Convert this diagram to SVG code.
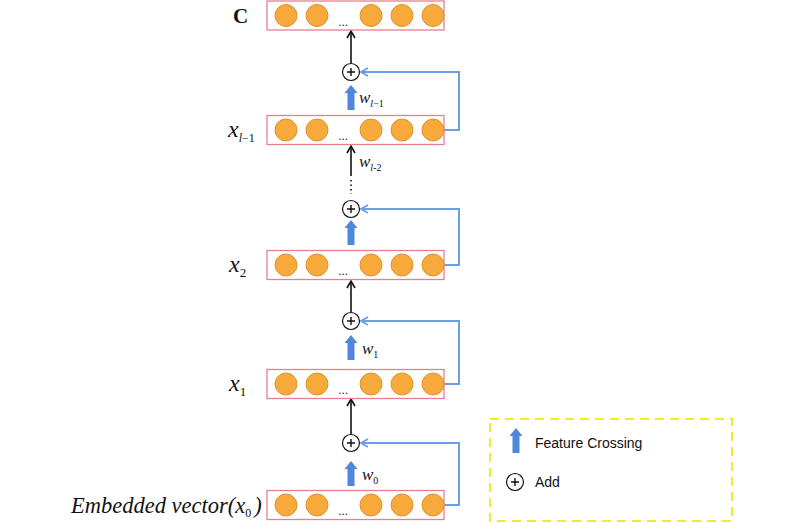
<svg xmlns="http://www.w3.org/2000/svg" width="800" height="523" viewBox="0 0 800 523">
<style>
.box{fill:#fff;stroke:#E8808C;stroke-width:1.3}
.node{fill:#F7A93B;stroke:#E0922E;stroke-width:1}
.dots{font-family:"Liberation Serif",serif;font-size:13px;fill:#333}
.plus{fill:#fff;stroke:#111;stroke-width:1.2}
.pl{stroke:#111;stroke-width:1.4}
.fb{fill:none;stroke:#6C9EE8;stroke-width:2}
.blk{stroke:#111;stroke-width:1.6;fill:none}
.fc{fill:#4F87DA}
.lbl{font-family:"Liberation Serif",serif;font-style:italic;fill:#111}
.leg{font-family:"Liberation Sans",Arial,sans-serif;font-size:14px;fill:#111}
</style>
<defs>
<marker id="ab" markerWidth="10" markerHeight="10" refX="8" refY="5" orient="auto" markerUnits="userSpaceOnUse">
<path d="M1,1 L8,5 L1,9" fill="none" stroke="#111" stroke-width="1.6"/>
</marker>
<marker id="abl" markerWidth="10" markerHeight="10" refX="8" refY="5" orient="auto" markerUnits="userSpaceOnUse">
<path d="M1,1 L8,5 L1,9" fill="none" stroke="#6C9EE8" stroke-width="1.8"/>
</marker>
<g id="row">
<rect class="box" x="267" y="-14.5" width="177" height="29"/>
<circle class="node" cx="286" cy="0" r="11"/>
<circle class="node" cx="317" cy="0" r="11"/>
<text class="dots" x="343" y="10" text-anchor="middle">...</text>
<circle class="node" cx="371" cy="0" r="11"/>
<circle class="node" cx="402" cy="0" r="11"/>
<circle class="node" cx="433" cy="0" r="11"/>
</g>
<g id="addsym">
<circle class="plus" cx="0" cy="0" r="8.5"/>
<path class="pl" d="M-4,0 H4 M0,-4 V4"/>
</g>
<path id="fcarrow" class="fc" d="M-3.5,0 V-17 H-6.5 L0,-25 L6.5,-17 H3.5 V0 Z"/>
</defs>

<g id="connectors">
<path class="fb" d="M444,130 H459 V72 H361" marker-end="url(#abl)"/>
<path class="fb" d="M444,265 H459 V209 H361" marker-end="url(#abl)"/>
<path class="fb" d="M444,384 H459 V321 H361" marker-end="url(#abl)"/>
<path class="fb" d="M444,505 H459 V443 H361" marker-end="url(#abl)"/>
<path class="blk" d="M351,63 V31" marker-end="url(#ab)"/>
<path class="blk" d="M351,176 V146" marker-end="url(#ab)"/>
<path d="M351,180 V194" stroke="#111" stroke-width="1.6" stroke-dasharray="1.5,3"/>
<path class="blk" d="M351,312 V281" marker-end="url(#ab)"/>
<path class="blk" d="M351,434 V399" marker-end="url(#ab)"/>
<use href="#fcarrow" x="351" y="110"/>
<use href="#fcarrow" x="351" y="245"/>
<use href="#fcarrow" x="351" y="360"/>
<use href="#fcarrow" x="351" y="486"/>
</g>

<g id="node-C"><use href="#row" x="0" y="15.5"/>
<text x="233" y="23" font-family="'Liberation Serif',serif" font-weight="bold" font-size="21" fill="#111">C</text></g>
<g id="node-xl1"><use href="#row" x="0" y="130"/>
<text class="lbl" x="228" y="137" font-size="24">x<tspan font-size="12" dy="5">l</tspan><tspan font-size="12" font-style="normal">−1</tspan></text></g>
<g id="node-x2"><use href="#row" x="0" y="265"/>
<text class="lbl" x="229" y="272" font-size="24">x<tspan font-size="13" dy="5" font-style="normal">2</tspan></text></g>
<g id="node-x1"><use href="#row" x="0" y="384"/>
<text class="lbl" x="229" y="391" font-size="24">x<tspan font-size="13" dy="5" font-style="normal">1</tspan></text></g>
<g id="node-x0"><use href="#row" x="0" y="505"/>
<text class="lbl" x="71" y="513" font-size="22.5">Embedded vector(x<tspan font-size="12" dy="4" font-style="normal">0</tspan><tspan dy="-4" dx="3">)</tspan></text></g>

<g id="add-l1"><use href="#addsym" x="351" y="72"/></g>
<g id="add-2"><use href="#addsym" x="351" y="209"/></g>
<g id="add-1"><use href="#addsym" x="351" y="321"/></g>
<g id="add-0"><use href="#addsym" x="351" y="443"/></g>

<g id="weights">
<text class="lbl" x="359" y="103" font-size="17">w<tspan font-size="10" dy="4">l</tspan><tspan font-size="10" font-style="normal">−1</tspan></text>
<text class="lbl" x="359" y="167" font-size="17">w<tspan font-size="10" dy="4">l</tspan><tspan font-size="10" font-style="normal">-2</tspan></text>
<text class="lbl" x="362" y="354" font-size="17">w<tspan font-size="10" dy="4" font-style="normal">1</tspan></text>
<text class="lbl" x="362" y="480" font-size="17">w<tspan font-size="10" dy="4" font-style="normal">0</tspan></text>
</g>

<g id="legend">
<rect x="490" y="419" width="242" height="102" fill="none" stroke="#F2EA30" stroke-width="2" stroke-dasharray="9,6"/>
<use href="#fcarrow" x="516" y="453"/>
<text class="leg" x="535" y="448">Feature Crossing</text>
<use href="#addsym" x="515" y="482"/>
<text class="leg" x="535" y="487">Add</text>
</g>
</svg>
